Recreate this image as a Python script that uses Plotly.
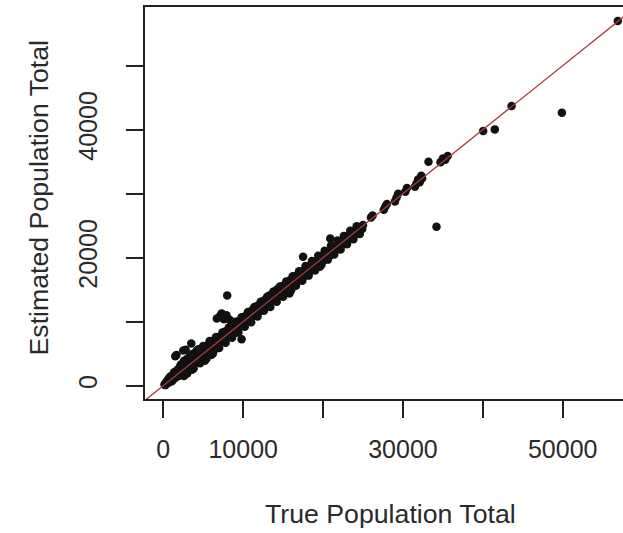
import plotly.graph_objects as go

# Small-area estimates: true vs. estimated population totals
true_total = [
    150, 250, 300, 400, 450, 500, 600, 650, 700, 800, 850, 900, 1000, 1050, 1100,
    1150, 1200, 1300, 1350, 1400, 1450, 1500, 1550, 1600, 1650, 1700, 1750, 1800,
    1900, 1950, 2000, 2050, 2100, 2200, 2250, 2300, 2400, 2450, 2500, 2550, 2600,
    2700, 2750, 2800, 2900, 2950, 3000, 3100, 3150, 3200, 3300, 3350, 3400, 3500,
    3550, 3600, 3700, 3750, 3800, 3900, 4000, 4100, 4150, 4200, 4300, 4400, 4450,
    4500, 4600, 4700, 4750, 4800, 4900, 5000, 3600, 5200, 6000,
    5200, 5300, 5500, 5600, 5700, 5800, 6000, 6100, 6200, 6300, 6500, 6600, 6700,
    6800, 6900, 7000, 7100, 7200, 7300, 7400, 7500, 7600, 7700, 7800, 7900, 8000,
    8100, 8200, 8300, 8400, 8500, 8600, 8800, 8900, 9000, 9100, 9300, 9400, 9600,
    9800, 9700, 9900, 10000, 10200, 10300, 10500, 10600, 10800, 11000, 11100,
    11300, 11500, 11600, 11800, 12000,
    12200, 12400, 12600, 12700, 12900, 13100, 13300, 13400, 13600, 13800, 14000,
    14100, 14300, 14500, 14700, 14800, 15000, 15200, 15400, 15600, 15800, 15900,
    16000, 16100, 16300, 16500, 16700, 16900, 17100, 17300, 17500, 17500, 17700,
    17900, 18100, 18300, 18500, 18700, 18900, 19100, 19300, 19600, 19500, 19700,
    19900, 20100, 20300, 20500, 20700, 20900, 20900, 21100, 21300, 21500, 21700,
    21900, 22100, 22300, 22500, 22700, 22900, 23100, 23300, 23500, 23700, 23900,
    24100, 24300, 24500, 24700, 24900,
    2200, 2600, 3000, 3400, 3800, 4200, 4600, 5000, 5400, 5800, 6200, 6600, 7000,
    7400, 7800, 8200, 8600, 9000, 9400, 9800, 10200, 10600, 11000, 11400, 11800,
    12200, 12600, 13000, 13400, 13800, 14200, 14600, 15000, 15400, 15800, 16200,
    16600, 17000, 17400, 17800, 18200, 18600, 19000, 19400, 19800, 20200, 20600,
    21000, 21400, 21800, 22200, 22600, 23000, 23400, 23800, 24200, 24600, 25000,
    26000, 26200, 27600, 27800, 28000, 29000, 29200, 29400, 30300, 30500, 31500,
    31700, 31900, 32100, 32300, 32400, 33200, 34200, 34700, 35000, 35300, 35600,
    40050, 41500, 43600, 49900, 56900,
]
est_total = [
    180, 90, 420, 350, 700, 380, 620, 1100, 520, 900, 1400, 760, 1150, 700, 1600,
    1200, 900, 1450, 2100, 1150, 1700, 4600, 1300, 2000, 4800, 1500, 2500, 1700,
    2200, 1500, 2600, 1800, 3000, 2300, 1700, 2800, 3400, 2100, 5500, 2700, 3900,
    2400, 3100, 5600, 2600, 3500, 4200, 2800, 3300, 3900, 3000, 4600, 3700, 6600,
    3200, 4100, 5000, 3400, 4000, 4500, 3600, 5300, 4300, 3900, 4700, 5700, 4100,
    4600, 5200, 4300, 5800, 4900, 4500, 5300, 2500, 3900, 4800,
    5600, 4300, 6000, 5100, 6500, 4900, 6300, 5600, 7000, 5400, 6800, 6100, 10500,
    7300, 6000, 7600, 10900, 6800, 11300, 7000, 8100, 10400, 7300, 8500, 11000, 14100,
    7600, 8800, 10300, 8100, 9200, 8300, 9400, 8200, 9600, 8700, 10000, 9000, 10200,
    7250, 9300, 10600, 9600, 10800, 9800, 11200, 10100, 11400, 10600, 11800,
    10900, 12100, 11200, 12500, 11600,
    12900, 12000, 13300, 12300, 13500, 12700, 14100, 13000, 14300, 13400, 14700,
    13600, 15100, 14000, 15300, 14300, 15600, 14700, 16000, 15100, 14400, 16500,
    14900, 15500, 16800, 16000, 17200, 16400, 17600, 16800, 20150, 17900, 17200,
    18300, 17600, 18700, 18000, 19100, 18400, 19500, 18800, 18600, 19900, 19200,
    20300, 19600, 20600, 20000, 21000, 23000, 20400, 21500, 20900, 21800, 21300,
    22300, 21700, 22600, 22100, 23000, 22500, 23400, 22900, 23700, 23300, 24100,
    23700, 24500, 24100, 24800, 24500,
    3300, 1500, 1900, 4800, 2700, 5500, 3500, 6200, 4200, 7000, 5000, 7600, 5900,
    8300, 6700, 9100, 7500, 10000, 8300, 10700, 9200, 11500, 9900, 12300, 10800,
    13100, 11700, 13900, 12300, 14700, 13100, 15500, 13900, 16300, 14800, 17100,
    15600, 17900, 16400, 18700, 17200, 19500, 18000, 20300, 18900, 21100, 19700,
    21900, 20500, 22700, 21300, 23400, 22100, 24200, 22900, 24900, 23700, 25100,
    26300, 26600, 27500, 28000, 28400, 28800, 29400, 30000, 30300, 30900, 31100,
    31600, 32200, 31800, 32800, 32400, 35000, 24850, 34900, 35500, 35300, 35900,
    39800, 40050, 43700, 42650, 57000,
]

x_range = [-2291, 57550]
y_range = [-2078, 59172]
x_ticks = [0, 10000, 20000, 30000, 40000, 50000]
x_tick_text = ["0", "10000", "", "30000", "", "50000"]
y_ticks = [0, 10000, 20000, 30000, 40000, 50000]
y_tick_text = ["0", "", "20000", "", "40000", ""]
ref_line = [-5000, 65000]

FONT = "Liberation Sans, Arial, sans-serif"
TEXT = "#2a2a2a"

fig = go.Figure()
fig.add_trace(go.Scatter(
    x=true_total, y=est_total, mode="markers",
    marker=dict(color="#111111", size=8.5, line=dict(width=0)),
    showlegend=False, hoverinfo="skip",
))
# identity line y = x
fig.add_trace(go.Scatter(
    x=ref_line, y=ref_line, mode="lines",
    line=dict(color="#a83a3a", width=1.3),
    showlegend=False, hoverinfo="skip",
))

axis_common = dict(
    showline=True, linecolor="#222222", linewidth=1.5,
    ticks="outside", ticklen=17, tickwidth=1.5, tickcolor="#222222",
    showgrid=False, zeroline=False,
    tickfont=dict(family=FONT, size=25, color=TEXT),
)
fig.update_xaxes(range=x_range, tickvals=x_ticks, ticktext=x_tick_text,
                 mirror=True, ticklabelstandoff=10, **axis_common)
fig.update_yaxes(range=y_range, tickvals=y_ticks, ticktext=y_tick_text,
                 tickangle=-90, mirror=False, ticklabelstandoff=19,
                 **axis_common)

fig.update_layout(
    width=623, height=533,
    margin=dict(l=145, r=0, t=7, b=134, autoexpand=False),
    paper_bgcolor="white", plot_bgcolor="white",
    annotations=[
        dict(text="True Population Total", xref="paper", yref="paper",
             x=0.5126, y=-0.2934, xanchor="center", yanchor="middle",
             showarrow=False, font=dict(family=FONT, size=26.7, color=TEXT)),
        dict(text="Estimated Population Total", xref="paper", yref="paper",
             x=-0.2228, y=0.5128, xanchor="center", yanchor="middle",
             textangle=-90, showarrow=False,
             font=dict(family=FONT, size=26.7, color=TEXT)),
    ],
)

fig.write_html("out.html")
